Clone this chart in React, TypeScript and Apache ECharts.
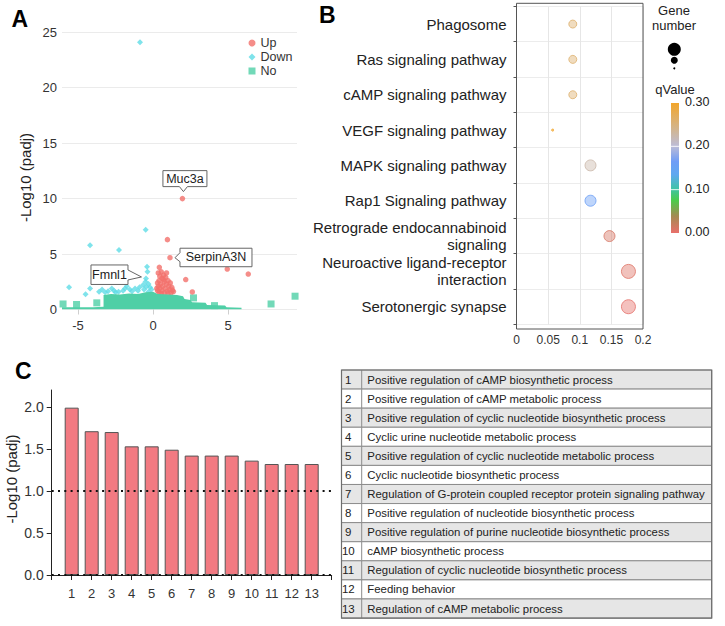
import React, { useEffect, useRef } from 'react';
import * as echarts from 'echarts';

const FONT = '"Liberation Sans", Arial, Helvetica, sans-serif';
const RED = '#f2716b';
const CYAN = '#5fdce6';
const GREEN = '#4fcfa6';
const BAR = '#f27a82';

// ---------------- Panel A : volcano ----------------
const volcanoXTicks = [-5, 0, 5];
const upPoints: number[][] = [
  [1.96, 10.0], [0.96, 6.3], [1.13, 4.67], [0.42, 3.8], [4.95, 3.65], [6.35, 3.2],
  [2.18, 2.7], [2.62, 1.58], [1.36, 1.62],
  [0.35, 3.3], [0.55, 3.4], [0.45, 3.0], [0.7, 3.1], [0.6, 2.8], [0.85, 2.9], [0.4, 2.6],
  [0.75, 2.5], [1.0, 2.6], [0.5, 2.3], [0.9, 2.3], [1.15, 2.4], [0.35, 2.1], [0.65, 2.1],
  [1.05, 2.1], [1.25, 2.0], [0.45, 1.9], [0.8, 1.9], [1.1, 1.8], [0.3, 1.7], [0.6, 1.7],
  [0.95, 1.65], [1.3, 1.75], [0.4, 1.5], [0.75, 1.5], [1.2, 1.5], [0.55, 1.45], [1.0, 1.45],
  [0.7, 2.7], [0.9, 3.3], [0.25, 1.9], [0.3, 2.4],
];
const downPoints: number[][] = [
  [-0.87, 24.1], [-0.49, 7.2], [-4.2, 5.8], [-2.27, 5.36], [-0.4, 3.86], [-0.37, 3.4],
  [-0.47, 2.8], [-5.6, 2.0], [-4.5, 1.37], [-4.2, 1.9], [-3.6, 1.6], [-3.4, 1.8],
  [-2.75, 1.9], [-2.6, 1.7], [-1.87, 1.9], [-1.75, 2.1], [-1.55, 1.8], [-1.2, 1.9],
  [-0.9, 2.0], [-0.67, 2.2], [-0.5, 2.5], [-0.3, 2.3], [-0.2, 2.0], [-0.45, 2.05],
  [-0.1, 1.8], [-0.6, 1.8], [-1.0, 1.7], [-1.4, 1.65], [-2.0, 1.7], [-2.3, 1.6],
  [-3.0, 1.65], [-3.2, 1.55], [-2.5, 1.55], [-0.3, 1.6],
];
const noOutliers: number[][] = [
  [-6.0, 0.5], [-5.1, 0.45], [-3.75, 0.6], [2.7, 1.05], [4.1, 0.35], [7.87, 0.5], [9.47, 1.2],
];
const noEnvelope: number[][] = [
  [-6.07, 0.2], [-4.0, 0.2], [-3.3, 0.25], [-3.3, 1.3], [-2.8, 1.4], [-2.2, 1.35],
  [-1.6, 1.45], [-1.0, 1.4], [-0.5, 1.55], [0, 1.6], [0.3, 1.4], [1.0, 1.35], [1.6, 1.3],
  [2.0, 1.2], [2.1, 0.95], [2.5, 0.85], [2.6, 0.65], [3.5, 0.6], [3.6, 0.4], [4.8, 0.35],
  [4.9, 0.2], [5.9, 0.15], [5.9, 0],
];
const labelledGenes = [
  { name: 'Muc3a', x: 1.96, y: 10.0, side: 'top' },
  { name: 'SerpinA3N', x: 1.13, y: 4.67, side: 'right' },
  { name: 'Fmnl1', x: -0.47, y: 2.8, side: 'left' },
];

// ---------------- Panel B : KEGG bubble ----------------
const pathways = [
  'Phagosome',
  'Ras signaling pathway',
  'cAMP signaling pathway',
  'VEGF signaling pathway',
  'MAPK signaling pathway',
  'Rap1 Signaling pathway',
  'Retrograde endocannabinoid\nsignaling',
  'Neuroactive ligand-receptor\ninteraction',
  'Serotonergic synapse',
];
const richFactor = [0.089, 0.089, 0.089, 0.057, 0.117, 0.117, 0.147, 0.177, 0.177];
const geneNumber = [3, 3, 3, 1, 4, 4, 4, 5, 5];
const qValue = [0.26, 0.26, 0.26, 0.3, 0.225, 0.16, 0.01, 0.006, 0.002];
const qTicks = [0.3, 0.2, 0.1, 0.0];
const geneLegend = [5, 3, 1];

// ---------------- Panel C : GO bars ----------------
const goIds = ['1', '2', '3', '4', '5', '6', '7', '8', '9', '10', '11', '12', '13'];
const goValues = [1.99, 1.71, 1.7, 1.53, 1.53, 1.49, 1.42, 1.42, 1.42, 1.36, 1.32, 1.32, 1.32];
const goTerms = [
  'Positive regulation of cAMP biosynthetic process',
  'Positive regulation of cAMP metabolic process',
  'Positive regulation of cyclic nucleotide biosynthetic process',
  'Cyclic urine nucleotide metabolic process',
  'Positive regulation of cyclic nucleotide metabolic process',
  'Cyclic nucleotide biosynthetic process',
  'Regulation of G-protein coupled receptor protein signaling pathway',
  'Positive regulation of nucleotide biosynthetic process',
  'Positive regulation of purine nucleotide biosynthetic process',
  'cAMP biosynthetic process',
  'Regulation of cyclic nucleotide biosynthetic process',
  'Feeding behavior',
  'Regulation of cAMP metabolic process',
];
const goYTicks = [0, 0.5, 1, 1.5, 2];
const threshold = 1.0;

// colour scale for qValue (t = q / 0.3)
const Q_MAX = 0.3;
const qStops: [number, string][] = [
  [0.0, '#e9706b'],
  [0.13, '#a48a52'],
  [0.25, '#4ccb4a'],
  [0.34, '#3fc3a6'],
  [0.45, '#5fa8f0'],
  [0.55, '#6f9df6'],
  [0.67, '#bdbcd6'],
  [0.8, '#d2b58e'],
  [1.0, '#f2a52a'],
];
function hex(c: string) {
  return [parseInt(c.slice(1, 3), 16), parseInt(c.slice(3, 5), 16), parseInt(c.slice(5, 7), 16)];
}
function colorAt(q: number) {
  const t = Math.max(0, Math.min(1, q / Q_MAX));
  for (let i = 0; i < qStops.length - 1; i++) {
    const [t0, c0] = qStops[i];
    const [t1, c1] = qStops[i + 1];
    if (t <= t1) {
      const f = (t - t0) / (t1 - t0);
      const a = hex(c0), b = hex(c1);
      return a.map((v, k) => Math.round(v + (b[k] - v) * f));
    }
  }
  return hex(qStops[qStops.length - 1][1]);
}
const geneSize = (n: number) => 2 + 3 * (n - 1);

function baseOption(): any {
  return {
    animation: false,
    textStyle: { fontFamily: FONT },
    legend: {
      data: [
        { name: 'Up', icon: 'circle' },
        { name: 'Down', icon: 'diamond' },
        { name: 'No', icon: 'rect' },
      ],
      orient: 'vertical',
      left: 243.5,
      top: 31.5,
      itemWidth: 7,
      itemHeight: 7,
      itemGap: 1,
      selectedMode: false,
      textStyle: { fontSize: 12.5, color: '#333', fontFamily: FONT },
    },
    grid: [
      { left: 62, top: 32.3, width: 235, height: 277.2 },
      { left: 516.5, top: 6.4, width: 126.5, height: 318 },
      { left: 51.7, top: 390, width: 280, height: 185 },
    ],
    xAxis: [
      {
        gridIndex: 0, type: 'value', min: -6.07, max: 9.6,
        axisLine: { show: false }, splitLine: { show: false },
        axisTick: { show: true, customValues: volcanoXTicks, length: 5, lineStyle: { color: '#cfcfcf' } },
        axisLabel: { customValues: volcanoXTicks, fontSize: 13, color: '#333', margin: 9 },
      },
      {
        gridIndex: 1, type: 'value', min: 0, max: 0.2, interval: 0.05,
        axisLine: { show: false }, axisTick: { show: false },
        splitLine: { show: true, lineStyle: { color: '#e6e6e6' } },
        axisLabel: { fontSize: 12, color: '#333', margin: 10 },
      },
      {
        gridIndex: 2, type: 'value', min: 0, max: 14, interval: 1,
        axisLine: { show: true, lineStyle: { color: '#222' } },
        axisTick: { show: true, length: 5, lineStyle: { color: '#222' } },
        splitLine: { show: false },
        axisLabel: {
          fontSize: 13, color: '#333', margin: 12,
          formatter: (v: number) => goIds[v - 1] ?? '',
        },
      },
    ],
    yAxis: [
      {
        gridIndex: 0, type: 'value', min: 0, max: 25, interval: 5,
        axisLine: { show: false }, axisTick: { show: false },
        splitLine: { show: true, lineStyle: { color: '#ebebeb' } },
        axisLabel: { fontSize: 13, color: '#333', margin: 5 },
      },
      {
        gridIndex: 1, type: 'category', data: pathways, inverse: true, boundaryGap: true,
        axisLine: { show: false },
        axisTick: { show: true, length: 3, lineStyle: { color: '#555' } },
        splitLine: { show: true, lineStyle: { color: '#ececec' } },
        axisLabel: { interval: 0, fontSize: 15, color: '#222', margin: 10, lineHeight: 17, align: 'right' },
      },
      {
        gridIndex: 2, type: 'value', min: 0, max: 2.2, interval: 0.5,
        axisLine: { show: true, lineStyle: { color: '#222' } },
        axisTick: { show: true, length: 5, customValues: goYTicks, lineStyle: { color: '#222' } },
        splitLine: { show: false },
        axisLabel: {
          customValues: goYTicks,
          fontSize: 14, color: '#333', margin: 8,
          formatter: (v: number) => v.toFixed(1),
        },
      },
    ],
    series: [
      {
        name: 'No', type: 'scatter', xAxisIndex: 0, yAxisIndex: 0,
        data: noOutliers, symbol: 'rect', symbolSize: 7, itemStyle: { color: GREEN },
      },
      {
        name: 'No', type: 'line', xAxisIndex: 0, yAxisIndex: 0,
        data: noEnvelope, symbol: 'none', silent: true,
        lineStyle: { width: 0, color: GREEN }, itemStyle: { color: GREEN },
        areaStyle: { color: GREEN, opacity: 1 },
      },
      {
        name: 'Down', type: 'scatter', xAxisIndex: 0, yAxisIndex: 0,
        data: downPoints, symbol: 'diamond', symbolSize: 6, itemStyle: { color: CYAN },
      },
      {
        name: 'Up', type: 'scatter', xAxisIndex: 0, yAxisIndex: 0,
        data: upPoints, symbol: 'circle', symbolSize: 5.5, itemStyle: { color: RED },
      },
      {
        name: 'KEGG', type: 'scatter', xAxisIndex: 1, yAxisIndex: 1,
        data: pathways.map((p, i) => {
          const c = colorAt(qValue[i]);
          return {
            value: [richFactor[i], i],
            symbolSize: geneSize(geneNumber[i]),
            itemStyle: {
              color: `rgba(${c[0]},${c[1]},${c[2]},0.55)`,
              borderColor: `rgb(${c[0]},${c[1]},${c[2]})`,
              borderWidth: 1,
            },
          };
        }),
      },
      {
        name: 'GO', type: 'bar', xAxisIndex: 2, yAxisIndex: 2,
        data: goValues.map((v, i) => [i + 1, v]),
        barWidth: 14,
        itemStyle: { color: BAR, borderColor: '#555', borderWidth: 1 },
        markLine: {
          silent: true, symbol: 'none', label: { show: false },
          lineStyle: { type: [2, 4.3], width: 2, color: '#111' },
          data: [{ yAxis: threshold }, { yAxis: 0 }],
        },
      },
    ],
  };
}

function staticGraphics(): any[] {
  const els: any[] = [];
  const letter = (t: string, x: number, y: number) => ({
    type: 'text', x, y,
    style: { text: t, fontSize: 23, fontWeight: 'bold', fontFamily: FONT, fill: '#000', align: 'left', verticalAlign: 'middle' },
  });
  els.push(letter('A', 11.5, 18.5), letter('B', 319, 15.2), letter('C', 15, 371));
  const vname = (x: number, y: number) => ({
    type: 'text', x, y, rotation: Math.PI / 2,
    style: { text: '-Log10 (padj)', fontSize: 15, fontFamily: FONT, fill: '#222', align: 'center', verticalAlign: 'middle' },
  });
  els.push(vname(25, 177.5), vname(11.7, 479));

  // Panel B frame
  els.push({
    type: 'rect', shape: { x: 516.5, y: 3.3, width: 126.5, height: 325.7 },
    style: { fill: 'none', stroke: '#555', lineWidth: 1 }, z: 10,
  });
  // Gene number legend
  const txt = (t: string, x: number, y: number, size = 13, align = 'center') => ({
    type: 'text', x, y,
    style: { text: t, fontSize: size, fontFamily: FONT, fill: '#222', align, verticalAlign: 'middle' },
  });
  els.push(txt('Gene', 674, 10.7), txt('number', 674, 25.7));
  const legY = [49.3, 60.3, 68.3];
  geneLegend.forEach((n, i) => {
    els.push({ type: 'circle', shape: { cx: 674.3, cy: legY[i], r: Math.max(1, geneSize(n) / 2 - 0.5) }, style: { fill: '#000' } });
  });
  els.push(txt('qValue', 675, 89.3));
  const barTop = 103, barBot = 233;
  const yq = (q: number) => barBot - (q / Q_MAX) * (barBot - barTop);
  els.push({
    type: 'rect', shape: { x: 671, y: barTop, width: 8, height: barBot - barTop },
    style: {
      fill: new echarts.graphic.LinearGradient(0, 0, 0, 1,
        qStops.map(([t, c]) => ({ offset: 1 - t, color: c })).reverse()),
    },
  });
  qTicks.forEach((q) => {
    if (q > 0 && q < Q_MAX) {
      els.push({ type: 'line', shape: { x1: 671, y1: yq(q), x2: 679, y2: yq(q) }, style: { stroke: '#fff', lineWidth: 1, opacity: 0.85 } });
    }
    els.push(txt(q.toFixed(2), 685, yq(q) - 1, 12.5, 'left'));
  });

  // Table
  const tTop = 370, rowH = 19.08, tL = 341.5, tDiv = 361.7, tR = 711.7;
  goIds.forEach((id, i) => {
    const y = tTop + i * rowH;
    els.push({
      type: 'rect', shape: { x: tL, y, width: tR - tL, height: rowH },
      style: { fill: i % 2 === 0 ? '#e6e6e6' : '#ffffff', stroke: '#8c8c8c', lineWidth: 1 },
    });
    els.push({ type: 'line', shape: { x1: tDiv, y1: y, x2: tDiv, y2: y + rowH }, style: { stroke: '#8c8c8c', lineWidth: 1 } });
    els.push({
      type: 'text', x: 348.3, y: y + rowH / 2,
      style: { text: id, fontSize: 11.5, fontFamily: FONT, fill: '#222', align: 'center', verticalAlign: 'middle' },
    });
    els.push({
      type: 'text', x: 367.3, y: y + rowH / 2,
      style: { text: goTerms[i], fontSize: 11.4, fontFamily: FONT, fill: '#222', align: 'left', verticalAlign: 'middle' },
    });
  });
  els.push({
    type: 'rect', shape: { x: tL, y: tTop, width: tR - tL, height: rowH * goIds.length },
    style: { fill: 'none', stroke: '#6e6e6e', lineWidth: 1.2 },
  });
  return els;
}

function calloutGraphics(chart: any): any[] {
  const els: any[] = [];
  labelledGenes.forEach((g) => {
    const [px, py] = chart.convertToPixel({ gridIndex: 0 }, [g.x, g.y]);
    let pts: number[][] = [];
    let L = 0, R = 0, T = 0, B = 0;
    if (g.side === 'top') {
      L = px - 19.5; R = px + 24.5; T = py - 28; B = py - 12;
      pts = [[L, T], [R, T], [R, B], [px + 5, B], [px + 1, py - 7], [px - 3, B], [L, B]];
    } else if (g.side === 'right') {
      L = px + 10; R = px + 82; T = py - 9.5; B = py + 9;
      pts = [[L, T], [R, T], [R, B], [L, B], [L, py + 4], [px + 5, py], [L, py - 5]];
    } else {
      L = px - 55; R = px - 18; T = py - 13.5; B = py + 6;
      pts = [[L, T], [R, T], [R, py - 8.5], [px - 4.5, py - 1.5], [R, py + 1.5], [R, B], [L, B]];
    }
    els.push({ type: 'polygon', shape: { points: pts }, style: { fill: '#fff', stroke: '#666', lineWidth: 1 }, z: 20 });
    els.push({
      type: 'text', x: (L + R) / 2, y: (T + B) / 2, z: 21,
      style: { text: g.name, fontSize: 12.5, fontFamily: FONT, fill: '#222', align: 'center', verticalAlign: 'middle' },
    });
  });
  return els;
}

export default function App() {
  const ref = useRef<HTMLDivElement>(null);
  useEffect(() => {
    const chart = echarts.init(ref.current as HTMLDivElement, null, { renderer: 'svg', width: 725, height: 626 });
    chart.setOption(baseOption());
    const all = [...staticGraphics(), ...calloutGraphics(chart)];
    chart.setOption({ graphic: all });
    return () => chart.dispose();
  }, []);
  return (
    <div
      ref={ref}
      style={{ position: 'fixed', left: 0, top: 0, width: 725, height: 626, background: '#fff' }}
    />
  );
}
